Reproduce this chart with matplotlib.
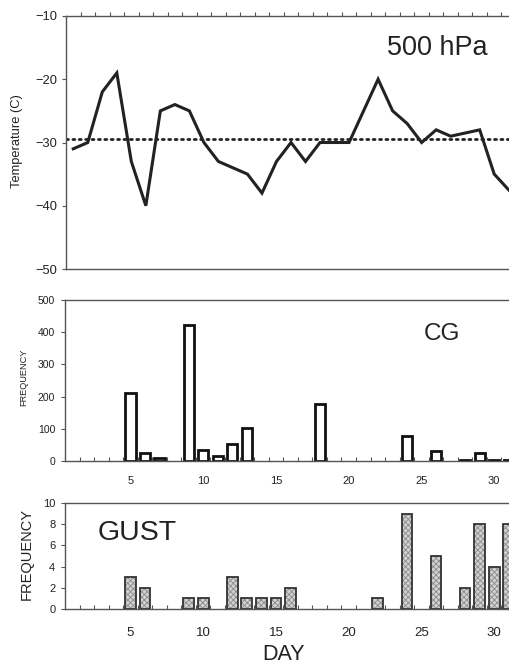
import matplotlib
matplotlib.use('Agg')
import matplotlib.pyplot as plt
import numpy as np

plt.rcParams['font.family'] = ['Liberation Sans', 'DejaVu Sans']
plt.rcParams['hatch.linewidth'] = 0.6

# 500 hPa temperature, days 1..31
days = list(range(1, 32))
temp = [-31, -30, -22, -19, -33, -40, -25, -24, -25, -30, -33, -34, -35, -38, -33, -30,
        -33, -30, -30, -30, -25, -20, -25, -27, -30, -28, -29, -28.5, -28, -35, -37.5]
temp_mean = -29.4

# CG lightning counts
cg_days = [5, 6, 7, 9, 10, 11, 12, 13, 18, 24, 26, 28, 29, 30, 31]
cg_vals = [210, 25, 10, 422, 35, 14, 52, 101, 176, 77, 32, 4, 25, 3, 3]

# gust counts
gust_days = [5, 6, 9, 10, 12, 13, 14, 15, 16, 22, 24, 26, 28, 29, 30, 31]
gust_vals = [3, 2, 1, 1, 3, 1, 1, 1, 2, 1, 9, 5, 2, 8, 4, 8]

day_labels = [5, 10, 15, 20, 25, 30]
bounds = np.arange(1.5, 31, 1.0)

W, H = 509, 665
fig = plt.figure(figsize=(W / 100, H / 100), dpi=100)

def box(left, top, right, bottom):
    return [left / W, 1 - bottom / H, (right - left) / W, (bottom - top) / H]

spine_col = '#555555'
ink = '#222222'

# ---- top panel: temperature
ax1 = fig.add_axes(box(66, 16, 516, 269))
ax1.plot(days, temp, color=ink, lw=2.2, solid_joinstyle='miter')
ax1.axhline(temp_mean, color=ink, lw=2.0, ls=(0, (0.7, 1.6)), dash_capstyle='round')
ax1.set_xlim(0.5, 31.5)
ax1.set_ylim(-50, -10)
ax1.set_yticks([-10, -20, -30, -40, -50])
ax1.set_yticklabels(['\u221210', '\u221220', '\u221230', '\u221240', '\u221250'])
ax1.xaxis.tick_top()
ax1.set_xticks(bounds)
ax1.set_xticklabels([])
ax1.tick_params(axis='x', direction='out', length=3, width=0.8, color=spine_col)
ax1.tick_params(axis='y', direction='out', length=3, width=0.8, color=spine_col,
                labelsize=9.3, labelcolor=ink, pad=3)
ax1.spines['right'].set_visible(False)
for s in ['left', 'bottom', 'top']:
    ax1.spines[s].set_color(spine_col)
    ax1.spines[s].set_linewidth(1.0)
fig.text(17 / W, 1 - 141 / H, 'Temperature (C)', rotation=90, ha='center', va='center',
         fontsize=9.3, color=ink)
fig.text(387 / W, 1 - 55 / H, '500 hPa', fontsize=19.5, color=ink, ha='left', va='baseline')

# ---- middle panel: CG
ax2 = fig.add_axes(box(65, 300, 516, 461))
ax2.bar(cg_days, cg_vals, width=0.7, facecolor='white', edgecolor='#111111', lw=2.0)
ax2.set_xlim(0.5, 31.5)
ax2.set_ylim(0, 500)
ax2.set_yticks(range(0, 501, 100))
ax2.set_xticks(day_labels)
ax2.set_xticks(bounds, minor=True)
ax2.tick_params(axis='x', which='major', length=0, pad=11, labelsize=8, labelcolor=ink)
ax2.tick_params(axis='x', which='minor', direction='in', length=3, width=0.8, color=spine_col)
ax2.tick_params(axis='y', direction='out', length=3, width=0.8, color=spine_col,
                labelsize=7.5, labelcolor=ink, pad=4)
ax2.spines['right'].set_visible(False)
for s in ['left', 'bottom', 'top']:
    ax2.spines[s].set_color(spine_col)
    ax2.spines[s].set_linewidth(1.0)
fig.text(24 / W, 1 - 377 / H, 'FREQUENCY', rotation=90, ha='center', va='center',
         fontsize=6.6, color=ink)
fig.text(424 / W, 1 - 340 / H, 'CG', fontsize=17.5, color=ink, ha='left', va='baseline')

# ---- bottom panel: GUST
ax3 = fig.add_axes(box(65, 503, 516, 609))
ax3.bar(gust_days, gust_vals, width=0.74, facecolor='#d2d2d2', edgecolor='#8a8a8a',
        hatch='xxxxxx', lw=0)
ax3.bar(gust_days, gust_vals, width=0.74, fill=False, edgecolor='#333333', lw=1.3)
ax3.set_xlim(0.5, 31.5)
ax3.set_ylim(0, 10)
ax3.set_yticks(range(0, 11, 2))
ax3.set_xticks(day_labels)
ax3.set_xticks(bounds, minor=True)
ax3.tick_params(axis='x', which='major', length=0, pad=13, labelsize=9.5, labelcolor=ink)
ax3.tick_params(axis='x', which='minor', direction='in', length=3, width=0.8, color=spine_col)
ax3.tick_params(axis='y', direction='out', length=3, width=0.8, color=spine_col,
                labelsize=8, labelcolor=ink, pad=4)
ax3.spines['right'].set_visible(False)
for s in ['left', 'bottom', 'top']:
    ax3.spines[s].set_color(spine_col)
    ax3.spines[s].set_linewidth(1.0)
fig.text(27 / W, 1 - 554 / H, 'FREQUENCY', rotation=90, ha='center', va='center',
         fontsize=10.5, color=ink)
fig.text(98 / W, 1 - 540 / H, 'GUST', fontsize=20.5, color=ink, ha='left', va='baseline')
fig.text(283 / W, 1 - 660 / H, 'DAY', fontsize=15.5, color=ink, ha='center', va='baseline')

fig.savefig('out.png', dpi=100)
